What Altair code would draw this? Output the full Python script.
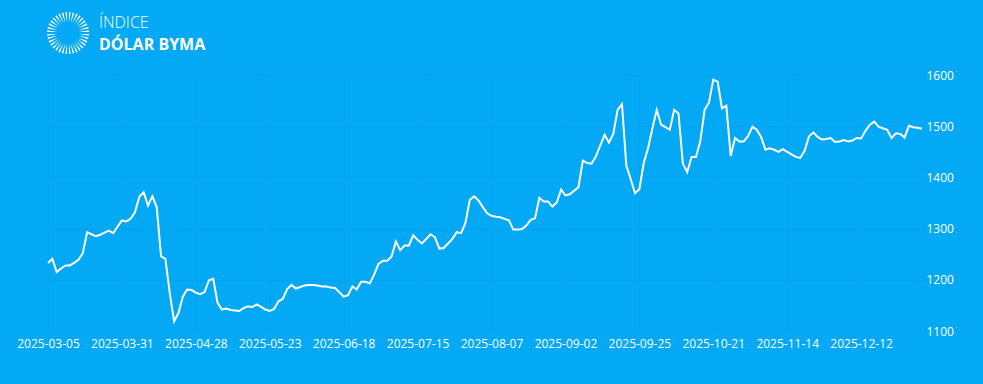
import altair as alt
import pandas as pd

# Argentine market holidays (no trading) and one gap in the source data
holidays = [
    "2025-03-24", "2025-04-02", "2025-04-17", "2025-04-18", "2025-05-01",
    "2025-05-02", "2025-06-16", "2025-06-20", "2025-07-09", "2025-08-15",
    "2025-10-10", "2025-10-27", "2025-11-21", "2025-11-24", "2025-12-08",
    "2025-12-25", "2026-01-01",
]
dates = [d.strftime("%Y-%m-%d") for d in pd.bdate_range("2025-03-05", "2026-01-05")
         if d.strftime("%Y-%m-%d") not in holidays]

values = [
    1233, 1241, 1215, 1222, 1228, 1228, 1233, 1239, 1252, 1293,
    1289, 1285, 1288, 1292, 1296, 1291, 1304, 1316, 1314, 1319,
    1332, 1362, 1371, 1345, 1363, 1342, 1246, 1241, 1174, 1119,
    1135, 1167, 1181, 1180, 1175, 1172, 1176, 1199, 1202, 1155,
    1142, 1144, 1141, 1140, 1139, 1145, 1148, 1147, 1152, 1147,
    1142, 1139, 1143, 1158, 1163, 1182, 1190, 1183, 1186, 1189,
    1190, 1190, 1189, 1187, 1187, 1185, 1184, 1176, 1167, 1170,
    1187, 1181, 1196, 1196, 1193, 1210, 1231, 1237, 1237, 1245,
    1275, 1258, 1267, 1267, 1287, 1278, 1271, 1280, 1289, 1283,
    1261, 1262, 1271, 1280, 1293, 1291, 1311, 1356, 1363, 1355,
    1342, 1330, 1325, 1323, 1322, 1319, 1316, 1298, 1298, 1299,
    1306, 1317, 1320, 1360, 1353, 1353, 1343, 1351, 1376, 1365,
    1367, 1374, 1381, 1433, 1428, 1427, 1441, 1462, 1483, 1468,
    1485, 1532, 1543, 1423, 1397, 1369, 1377, 1428, 1457, 1496,
    1532, 1503, 1498, 1493, 1532, 1525, 1427, 1410, 1440, 1440,
    1470, 1532, 1546, 1591, 1587, 1535, 1540, 1442, 1477, 1470,
    1470, 1481, 1499, 1493, 1479, 1454, 1457, 1454, 1450, 1455,
    1450, 1445, 1440, 1438, 1452, 1480, 1488, 1479, 1474, 1475,
    1477, 1469, 1470, 1473, 1470, 1472, 1477, 1476, 1491, 1503,
    1509, 1499, 1496, 1493, 1477, 1486, 1485, 1478, 1501, 1498,
    1497, 1495,
]

n = min(len(dates), len(values))
df = pd.DataFrame({"fecha": dates[:n], "valor": values[:n]})

label_dates = [
    "2025-03-05", "2025-03-31", "2025-04-28", "2025-05-23", "2025-06-18",
    "2025-07-15", "2025-08-07", "2025-09-02", "2025-09-25", "2025-10-21",
    "2025-11-14", "2025-12-12",
]
y_ticks = [1100, 1200, 1300, 1400, 1500, 1600]

title_top = ["ÍNDICE"]
title_bottom = ["DÓLAR BYMA"]
logo_segments = list(range(36))

FONT = "Open Sans"
GRID = "rgba(0,0,0,0.035)"

line = alt.Chart(df).mark_line(color="white", strokeWidth=2).encode(
    x=alt.X(
        "fecha:O", sort=None,
        scale=alt.Scale(type="point", padding=0),
        axis=alt.Axis(
            values=label_dates, labelAngle=0, title=None, ticks=False, domain=False,
            labelColor="white", labelFont=FONT, labelFontSize=12, labelPadding=7,
            grid=True, gridColor=GRID, labelOverlap=False,
        ),
    ),
    y=alt.Y(
        "valor:Q",
        scale=alt.Scale(domain=[1100, 1600], zero=False, nice=False),
        axis=alt.Axis(
            orient="right", values=y_ticks, format="d", title=None, ticks=False, domain=False,
            labelColor="white", labelFont=FONT, labelFontSize=12, labelPadding=4,
            grid=True, gridColor=GRID,
        ),
    ),
)

logo = alt.Chart(pd.DataFrame({"seg": logo_segments, "w": [1] * len(logo_segments)})).mark_arc(
    radius=21, radius2=11, padAngle=0.08, color="white"
).encode(
    theta=alt.Theta("w:Q", stack=True),
    order=alt.Order("seg:Q"),
    x=alt.value(20), y=alt.value(-42),
)

t1 = alt.Chart(pd.DataFrame({"t": title_top})).mark_text(
    align="left", baseline="middle", color="white", font=FONT, fontSize=16, fontWeight=300
).encode(text="t:N", x=alt.value(51), y=alt.value(-52))

t2 = alt.Chart(pd.DataFrame({"t": title_bottom})).mark_text(
    align="left", baseline="middle", color="white", font=FONT, fontSize=16, fontWeight="bold"
).encode(text="t:N", x=alt.value(51), y=alt.value(-30))

chart = alt.layer(line, logo, t1, t2).properties(
    width=874, height=256,
    autosize=alt.AutoSizeParams(type="none"),
    padding={"left": 48, "top": 75, "right": 61, "bottom": 53},
    background="#03A9F4",
).configure_view(stroke=None)

chart.save("out.html", embed_options={"renderer": "svg", "actions": False})
